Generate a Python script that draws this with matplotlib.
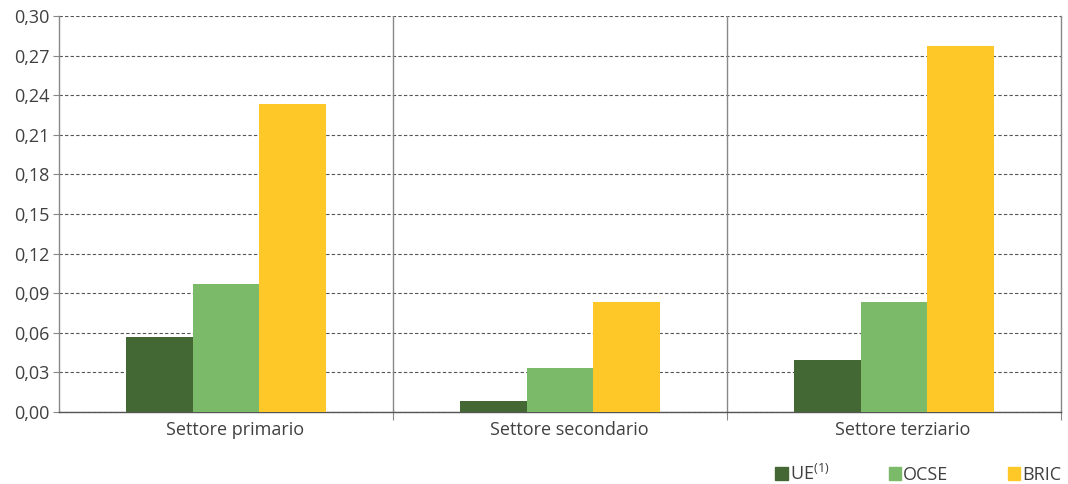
import matplotlib
matplotlib.use("Agg")

import matplotlib.pyplot as plt
import numpy as np
from matplotlib.patches import Patch
from matplotlib.ticker import FuncFormatter
from matplotlib.transforms import offset_copy

categories = ["Settore primario", "Settore secondario", "Settore terziario"]
series = ["UE$^{(1)}$", "OCSE", "BRIC"]
ue = [0.057, 0.008, 0.039]
ocse = [0.097, 0.033, 0.083]
bric = [0.233, 0.083, 0.277]
colors = ["#436834", "#7aba68", "#ffc829"]
yticks = np.arange(0, 0.301, 0.03)

plt.rcParams["font.family"] = ["Open Sans", "DejaVu Sans"]
plt.rcParams["mathtext.fontset"] = "custom"
plt.rcParams["mathtext.rm"] = "Open Sans"
plt.rcParams["mathtext.it"] = "Open Sans"
text_color = "#404040"
fs = 13

fig = plt.figure(figsize=(10.68, 4.84), dpi=100)
ax = fig.add_axes([0.0552, 0.1488, 0.9382, 0.8182])

x = np.arange(len(categories))
w = 0.2
for i, vals in enumerate([ue, ocse, bric]):
    ax.bar(x + (i - 1) * w, vals, width=w, color=colors[i], zorder=3)

ax.set_xlim(-0.5, 2.5)
ax.set_ylim(0, 0.30)
ax.set_yticks(yticks)
ax.yaxis.set_major_formatter(FuncFormatter(lambda v, p: f"{v:.2f}".replace(".", ",")))
ax.yaxis.grid(True, linestyle=(0, (3, 2)), color="#555555", linewidth=0.8, zorder=0)

# group separators
for sx in [0.5, 1.5]:
    ax.axvline(sx, color="#888888", linewidth=1, zorder=2)
ax.set_xticks([0.5, 1.5, 2.5], minor=False)
ax.set_xticklabels([])
ax.tick_params(axis="x", length=6, color="#888888", direction="out")
lab_tr = offset_copy(ax.transData, fig=fig, x=9, y=-9, units="dots")
for i, c in enumerate(categories):
    ax.text(i, 0, c, ha="center", va="top", fontsize=fs, color=text_color,
            transform=lab_tr)

ax.tick_params(axis="y", labelsize=fs, labelcolor=text_color, length=4,
               color="#888888", pad=3)
for s in ["left", "right", "bottom"]:
    ax.spines[s].set_color("#888888")
    ax.spines[s].set_linewidth(1)
ax.spines["bottom"].set_color("#555555")
ax.spines["top"].set_visible(False)

handles = [Patch(color=c) for c in colors]
fig.legend(handles, series, loc="lower right", bbox_to_anchor=(1.009, -0.033), ncol=3,
           frameon=False, fontsize=fs, handlelength=0.7, handleheight=0.7,
           handletextpad=0.1, columnspacing=3.3, labelcolor=text_color)

fig.savefig("out.png", dpi=100)
plt.close(fig)
